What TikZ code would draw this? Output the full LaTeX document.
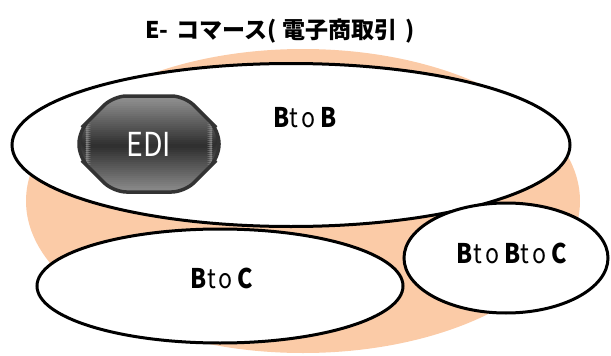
\documentclass[tikz,border=0pt]{standalone}
\usepackage{fontspec}
\setmainfont{Noto Sans CJK JP}
\newfontfamily\latinf[FakeStretch=0.86]{Noto Sans CJK JP}
\usetikzlibrary{shapes.geometric,shapes.misc}
\definecolor{peach}{HTML}{FBCBA7}
\definecolor{edgegray}{HTML}{333333}
\definecolor{lightg}{HTML}{8C8C8C}
\definecolor{darkg}{HTML}{2E2E2E}
\tikzset{
  sphere/.style={ellipse, draw=black, line width=3pt, fill=white, inner sep=0pt},
  lbl/.style={font=\latinf\fontsize{27}{30}\selectfont, inner sep=0pt},
  ttl/.style={font=\fontsize{23}{26}\selectfont\bfseries, inner sep=0pt},
  edibox/.style={chamfered rectangle, chamfered rectangle xsep=28pt, chamfered rectangle ysep=26pt,
    rounded corners=13pt, draw=edgegray, line width=3.5pt,
    minimum width=140pt, minimum height=96pt, inner sep=0pt,
    path picture={
      \fill[lightg] (path picture bounding box.south west) rectangle (path picture bounding box.north east);
      \foreach \i in {0,...,49}{
        \pgfmathtruncatemacro\p{min(100,abs(\i-24.5)*4.4)}
        \fill[lightg!\p!darkg] ([yshift=-\i*2pt]path picture bounding box.north west)
          rectangle ([yshift=-\i*2pt-2.4pt]path picture bounding box.north east);
      }
    },
    text=white, font=\latinf\fontsize{33}{36}\selectfont}
}
\begin{document}
\begin{tikzpicture}[x=1pt,y=-1pt]
\useasboundingbox (0,0) rectangle (611,356);
\node[ellipse, fill=peach, minimum width=554pt, minimum height=304pt, inner sep=0pt] (ec) at (303,201) {};
\node[sphere, minimum width=558pt, minimum height=163pt] (b2b) at (291,145) {};
\node[sphere, minimum width=366pt, minimum height=114pt] (b2c) at (220,286) {};
\node[sphere, minimum width=204pt, minimum height=110pt] (b2b2c) at (506,258) {};
\node[edibox] (edi) at (149,144) {EDI};
\node[ttl] (title) at (280,31) {E-\hspace{8pt}コマース(\hspace{6pt}電子商取引\hspace{8pt})};
\node[lbl] (lb2b) at (305,118) {\bfseries B\kern0.5pt{\mdseries t\kern3pt o}\kern5pt B};
\node[lbl] (lb2c) at (222,278) {\bfseries B\kern0.5pt{\mdseries t\kern3pt o}\kern5pt C};
\node[lbl] (lb2b2c) at (512,253) {\bfseries B\kern0.5pt{\mdseries t\kern3pt o}\kern5pt B\kern0.5pt{\mdseries t\kern3pt o}\kern5pt C};
\end{tikzpicture}
\end{document}
